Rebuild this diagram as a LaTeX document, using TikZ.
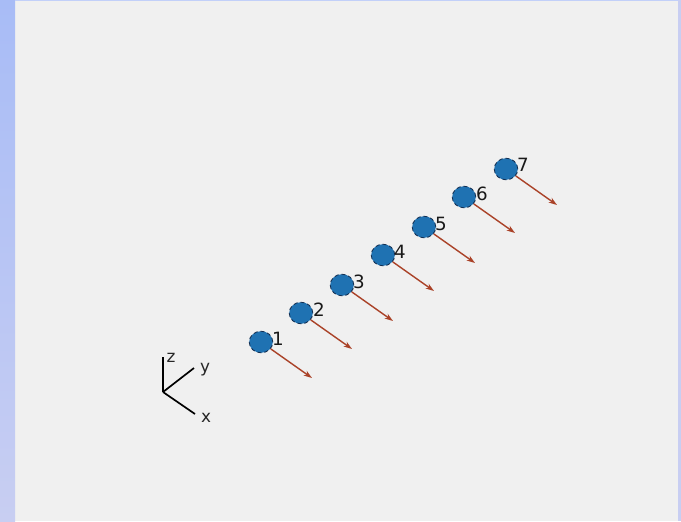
\documentclass[tikz,border=0pt]{standalone}
\usepackage{fontspec}
\setmainfont{DejaVu Sans}
\usetikzlibrary{shapes.geometric,arrows.meta}
\definecolor{panelgrey}{RGB}{240,240,240}
\definecolor{dotblue}{RGB}{31,114,178}
\definecolor{dotedge}{RGB}{18,45,80}
\definecolor{vecred}{RGB}{170,66,40}
\definecolor{stripA}{RGB}{168,188,246}
\definecolor{stripB}{RGB}{172,170,182}
\definecolor{stripC}{RGB}{200,206,242}

\begin{document}
\begin{tikzpicture}[
  x=0.025cm, y=-0.025cm,
  mass/.style={ellipse, draw=dotedge, densely dashed, line width=0.6pt, fill=dotblue,
    inner sep=0pt, minimum width=0.59cm, minimum height=0.54cm},
  tag/.style={font=\fontsize{13}{15}\selectfont, text=black!90, inner sep=0pt},
  vec/.style={draw=vecred, line width=1pt, -{Stealth[length=6pt,width=4pt]}},
  axis/.style={draw=black, line width=1.2pt},
  axtag/.style={font=\fontsize{12}{14}\selectfont, text=black!85, inner sep=0pt}
]
% Panel and window edges
\fill[panelgrey] (0,0) rectangle (681,521);
\shade[top color=stripA, middle color=stripB, bottom color=stripC] (0,0) rectangle (15,521);
\fill[stripC] (678,0) rectangle (681,521);
\fill[stripA!70!white] (15,0) rectangle (678,1.2);

% Point masses
\node[mass] (d1) at (261, 342) {};
\node[mass] (d2) at (301, 313) {};
\node[mass] (d3) at (342, 285) {};
\node[mass] (d4) at (383, 255) {};
\node[mass] (d5) at (424, 227) {};
\node[mass] (d6) at (464, 197) {};
\node[mass] (d7) at (506, 169) {};
\node[tag] (n1) at (278, 339) {1};
\node[tag] (n2) at (319, 310) {2};
\node[tag] (n3) at (359, 282) {3};
\node[tag] (n4) at (400, 252) {4};
\node[tag] (n5) at (441, 224) {5};
\node[tag] (n6) at (482, 194) {6};
\node[tag] (n7) at (523, 165) {7};

% Force vectors
\coordinate (f1) at (312, 378);
\coordinate (f2) at (352, 349);
\coordinate (f3) at (393, 321);
\coordinate (f4) at (434, 291);
\coordinate (f5) at (475, 263);
\coordinate (f6) at (515, 233);
\coordinate (f7) at (557, 205);
\draw[vec] (d1) -- (f1);
\draw[vec] (d2) -- (f2);
\draw[vec] (d3) -- (f3);
\draw[vec] (d4) -- (f4);
\draw[vec] (d5) -- (f5);
\draw[vec] (d6) -- (f6);
\draw[vec] (d7) -- (f7);

% Axis triad
\coordinate (o) at (163, 392);
\coordinate (ez) at (163, 357);
\coordinate (ey) at (194, 368);
\coordinate (ex) at (195, 414);
\draw[axis] (o) -- (ez);
\draw[axis] (o) -- (ey);
\draw[axis] (o) -- (ex);
\node[axtag] (lz) at (171, 358) {z};
\node[axtag] (ly) at (205, 370) {y};
\node[axtag] (lx) at (206, 418) {x};
\end{tikzpicture}
\end{document}
